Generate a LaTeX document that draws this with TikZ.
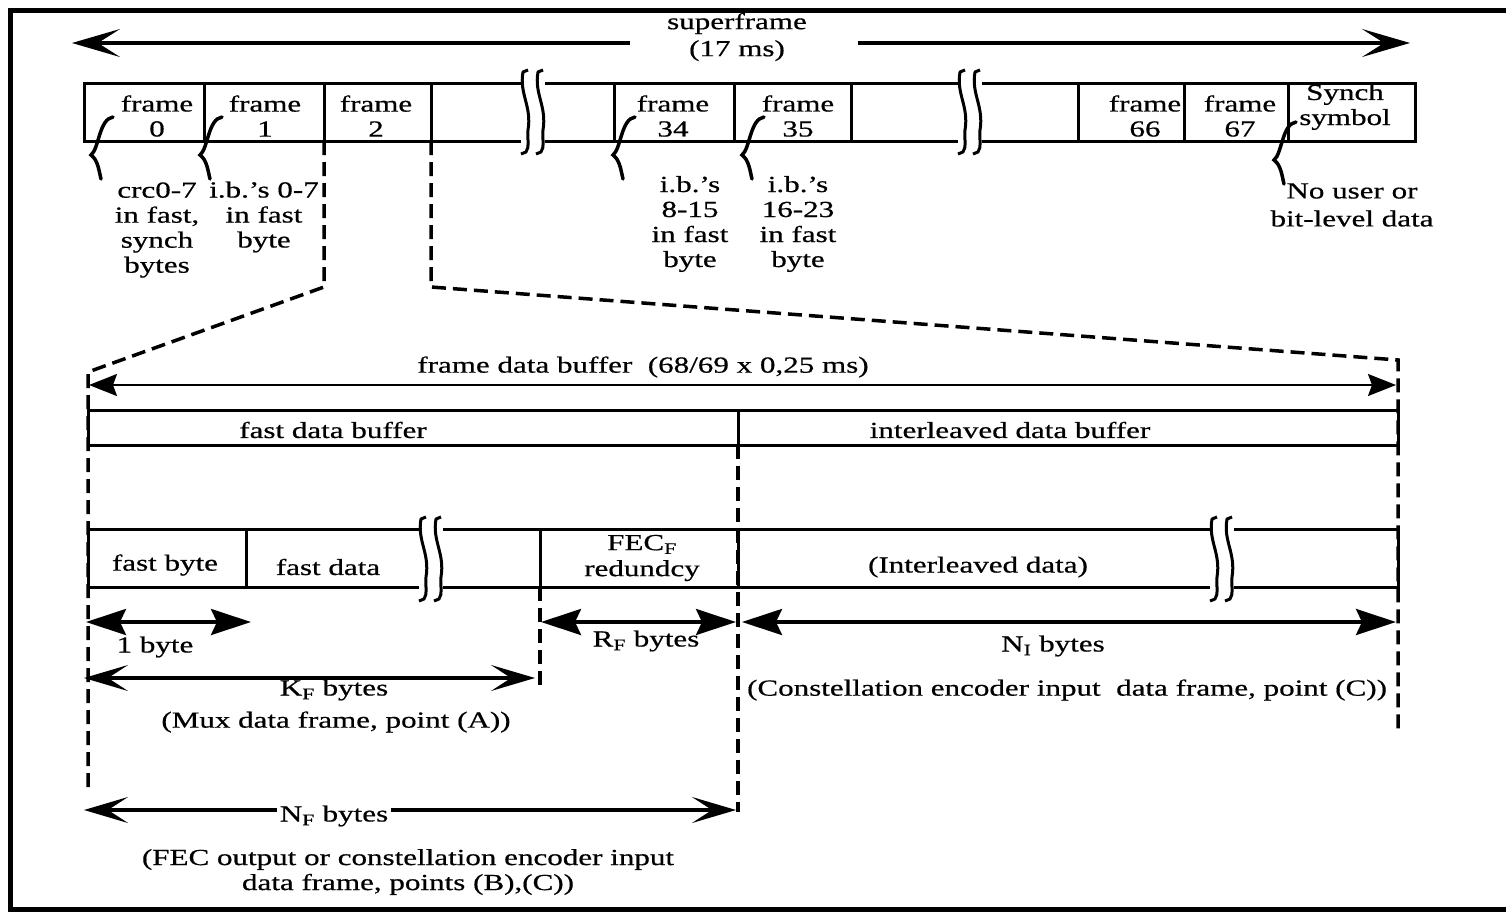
\documentclass[tikz,border=0pt]{standalone}
\usepackage{fontspec}
\setmainfont{Liberation Serif}[FakeStretch=1.35,FakeBold=0.6]
\usetikzlibrary{arrows.meta}

\tikzset{
  txt/.style={font=\fontsize{23}{25}\selectfont, inner sep=0pt, align=center},
  boxln/.style={line width=3pt},
  dashln/.style={line width=3.5pt, dash pattern=on 14pt off 7pt},
  barbL/.style={line width=3.5pt, {Stealth[length=48pt,width=28pt,inset=22pt]}-},
  barbR/.style={line width=3.5pt, -{Stealth[length=48pt,width=28pt,inset=22pt]}},
  barbLR/.style={line width=3.5pt, {Stealth[length=44pt,width=26pt,inset=20pt]}-{Stealth[length=44pt,width=26pt,inset=20pt]}},
  triLR/.style={line width=3.5pt, {Stealth[length=40pt,width=26pt,inset=6pt]}-{Stealth[length=40pt,width=26pt,inset=6pt]}},
  thinLR/.style={line width=2pt, {Stealth[length=28pt,width=22pt,inset=4pt]}-{Stealth[length=28pt,width=22pt,inset=4pt]}},
  brk/.pic={
    \fill[white] (-4,-36) rectangle (20,36);
    \foreach \o in {0,15}{
      \draw[line width=3pt, line join=round, xshift=\o pt]
        (3,-42) -- (-2,-40) .. controls (-6,-18) and (7,-6) .. (3,18)
        .. controls (2,28) and (5,34) .. (1,40) -- (-4,42);
    }
  },
  crly/.pic={
    \draw[line width=3.5pt, line cap=round]
      (22,-38) .. controls (8,-36) and (8,-6) .. (0,0)
      .. controls (7,5) and (8,16) .. (10,24);
  }
}

\begin{document}
\begin{tikzpicture}[x=1pt,y=-1pt]
\useasboundingbox (0,0) rectangle (1506,913);

% outer frame
\draw[line width=5pt] (1520,10) -- (10,10) -- (10,909) -- (1520,909);

% superframe span
\node[txt] (sf) at (737,37) {superframe\\[2pt](17 ms)};
\coordinate (sfL) at (72,43);
\coordinate (sfLe) at (630,43);
\coordinate (sfRs) at (858,43);
\coordinate (sfR) at (1410,43);
\draw[barbL] (sfL) -- (sfLe);
\draw[barbR] (sfRs) -- (sfR);

% row of frames
\draw[boxln] (84,83) rectangle (1415,141);
\foreach \x in {204,324,431,614,734,851,1078,1184,1288}
  \draw[boxln] (\x,83) -- (\x,141);
\pic at (525,112) {brk};
\pic at (962,112) {brk};

\node[txt] (f0)  at (157,116) {frame\\0};
\node[txt] (f1)  at (265,116) {frame\\1};
\node[txt] (f2)  at (376,116) {frame\\2};
\node[txt] (f34) at (673,116) {frame\\34};
\node[txt] (f35) at (798,116) {frame\\35};
\node[txt] (f66) at (1145,116) {frame\\66};
\node[txt] (f67) at (1240,116) {frame\\67};
\node[txt] (sy)  at (1345,107) {Synch\\symbol};

% braces marking the synch / indicator bytes
\pic at (91,155) {crly};
\pic at (200,155) {crly};
\pic at (613,155) {crly};
\pic at (742,155) {crly};
\pic at (1274,160) {crly};

\node[txt] (crc)    at (157,230) {crc0-7\\in fast,\\synch\\bytes};
\node[txt] (ib07)   at (264,217) {i.b.'s 0-7\\in fast\\byte};
\node[txt] (ib815)  at (690,224) {i.b.'s\\8-15\\in fast\\byte};
\node[txt] (ib1623) at (798,224) {i.b.'s\\16-23\\in fast\\byte};
\node[txt] (nouser) at (1352,205) {No user or\\[3pt]bit-level data};

% expansion of frame 2
\draw[dashln] (324,141) -- (324,287) -- (88,372) -- (88,790);
\draw[dashln] (431,141) -- (431,287) -- (1398,360) -- (1398,730);

\node[txt] (fdb) at (643,367) {frame data buffer~~(68/69 x 0,25 ms)};
\coordinate (fdbL) at (89,385);
\coordinate (fdbR) at (1396,385);
\draw[thinLR] (fdbL) -- (fdbR);

% fast / interleaved buffers
\draw[boxln] (88,410) rectangle (1398,445);
\draw[boxln] (738,410) -- (738,445);
\draw[dashln] (738,445) -- (738,812);
\node[txt] (fastbuf) at (333,430) {fast data buffer};
\node[txt] (intbuf)  at (1010,430) {interleaved data buffer};

% data frame contents
\draw[boxln] (88,529) rectangle (1398,587);
\foreach \x in {246,540,738}
  \draw[boxln] (\x,529) -- (\x,587);
\pic at (423,559) {brk};
\pic at (1214,559) {brk};
\draw[dashln] (540,587) -- (540,692);

\node[txt] (fastbyte) at (165,565) {fast byte};
\node[txt] (fastdata) at (328,567) {fast data};
\node[txt] (fec)      at (642,558) {FEC\textsubscript{F}\\[1pt]redundcy};
\node[txt] (intdata)  at (978,567) {(Interleaved data)};

% byte counts
\coordinate (obL) at (86,622);  \coordinate (obR) at (251,622);
\coordinate (rfL) at (541,622); \coordinate (rfR) at (736,622);
\coordinate (niL) at (742,622); \coordinate (niR) at (1396,622);
\coordinate (kfL) at (84,678);  \coordinate (kfR) at (535,678);
\coordinate (nfL) at (84,810);  \coordinate (nfR) at (736,810);
\draw[triLR] (obL) -- (obR);
\draw[triLR] (rfL) -- (rfR);
\draw[triLR] (niL) -- (niR);
\draw[barbLR] (kfL) -- (kfR);
\draw[barbLR] (nfL) -- (nfR);

\node[txt] (onebyte) at (155,647) {1 byte};
\node[txt] (rfb)     at (646,641) {R\textsubscript{F} bytes};
\node[txt] (nib)     at (1053,646) {N\textsubscript{I} bytes};
\node[txt] (kfb)     at (334,690) {K\textsubscript{F} bytes};
\node[txt] (mux)     at (336,722) {(Mux data frame, point (A))};
\node[txt] (cons)    at (1067,690) {(Constellation encoder input~~data frame, point (C))};
\node[txt, fill=white, inner xsep=3pt, inner ysep=1pt] (nfb) at (334,816) {N\textsubscript{F} bytes};
\node[txt] (fecout)  at (408,872) {(FEC output or constellation encoder input\\data frame, points (B),(C))};
\end{tikzpicture}
\end{document}
